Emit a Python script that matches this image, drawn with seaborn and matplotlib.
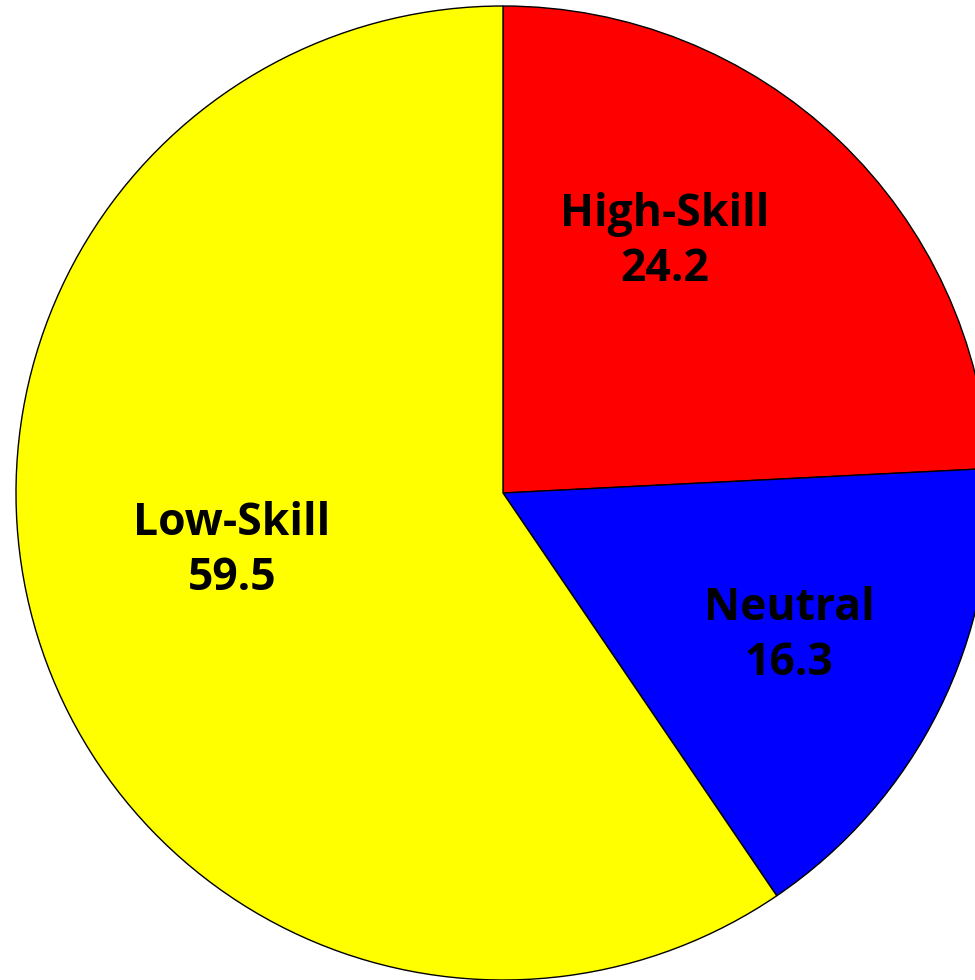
import matplotlib
matplotlib.use("Agg")
import matplotlib.pyplot as plt
import seaborn as sns

sns.set_theme(style="white")
plt.rcParams['font.family'] = ['Open Sans', 'DejaVu Sans']

categories = ["High-Skill", "Neutral", "Low-Skill"]
values = [24.2, 16.3, 59.5]
colors = ["#ff0000", "#0000ff", "#ffff00"]
# label anchor positions (pixel coords from top-left of image)
label_pos = [(665, 242), (789, 636), (232, 551)]

W, H = 975, 980
fig = plt.figure(figsize=(W / 100, H / 100), dpi=100)
ax = fig.add_axes([0, 0, 1, 1])
ax.pie(values, colors=colors, startangle=90, counterclock=False,
       radius=487, center=(503, H - 493),
       wedgeprops=dict(edgecolor="black", linewidth=1))
ax.set_xlim(0, W)
ax.set_ylim(0, H)
ax.set_aspect("equal")
ax.axis("off")

for cat, val, (x, y) in zip(categories, values, label_pos):
    ax.text(x, H - y, f"{cat}\n{val:.1f}", ha="center", va="center",
            fontsize=32, fontweight="bold", color="black",
            linespacing=1.3)

fig.savefig("out.png", dpi=100)
